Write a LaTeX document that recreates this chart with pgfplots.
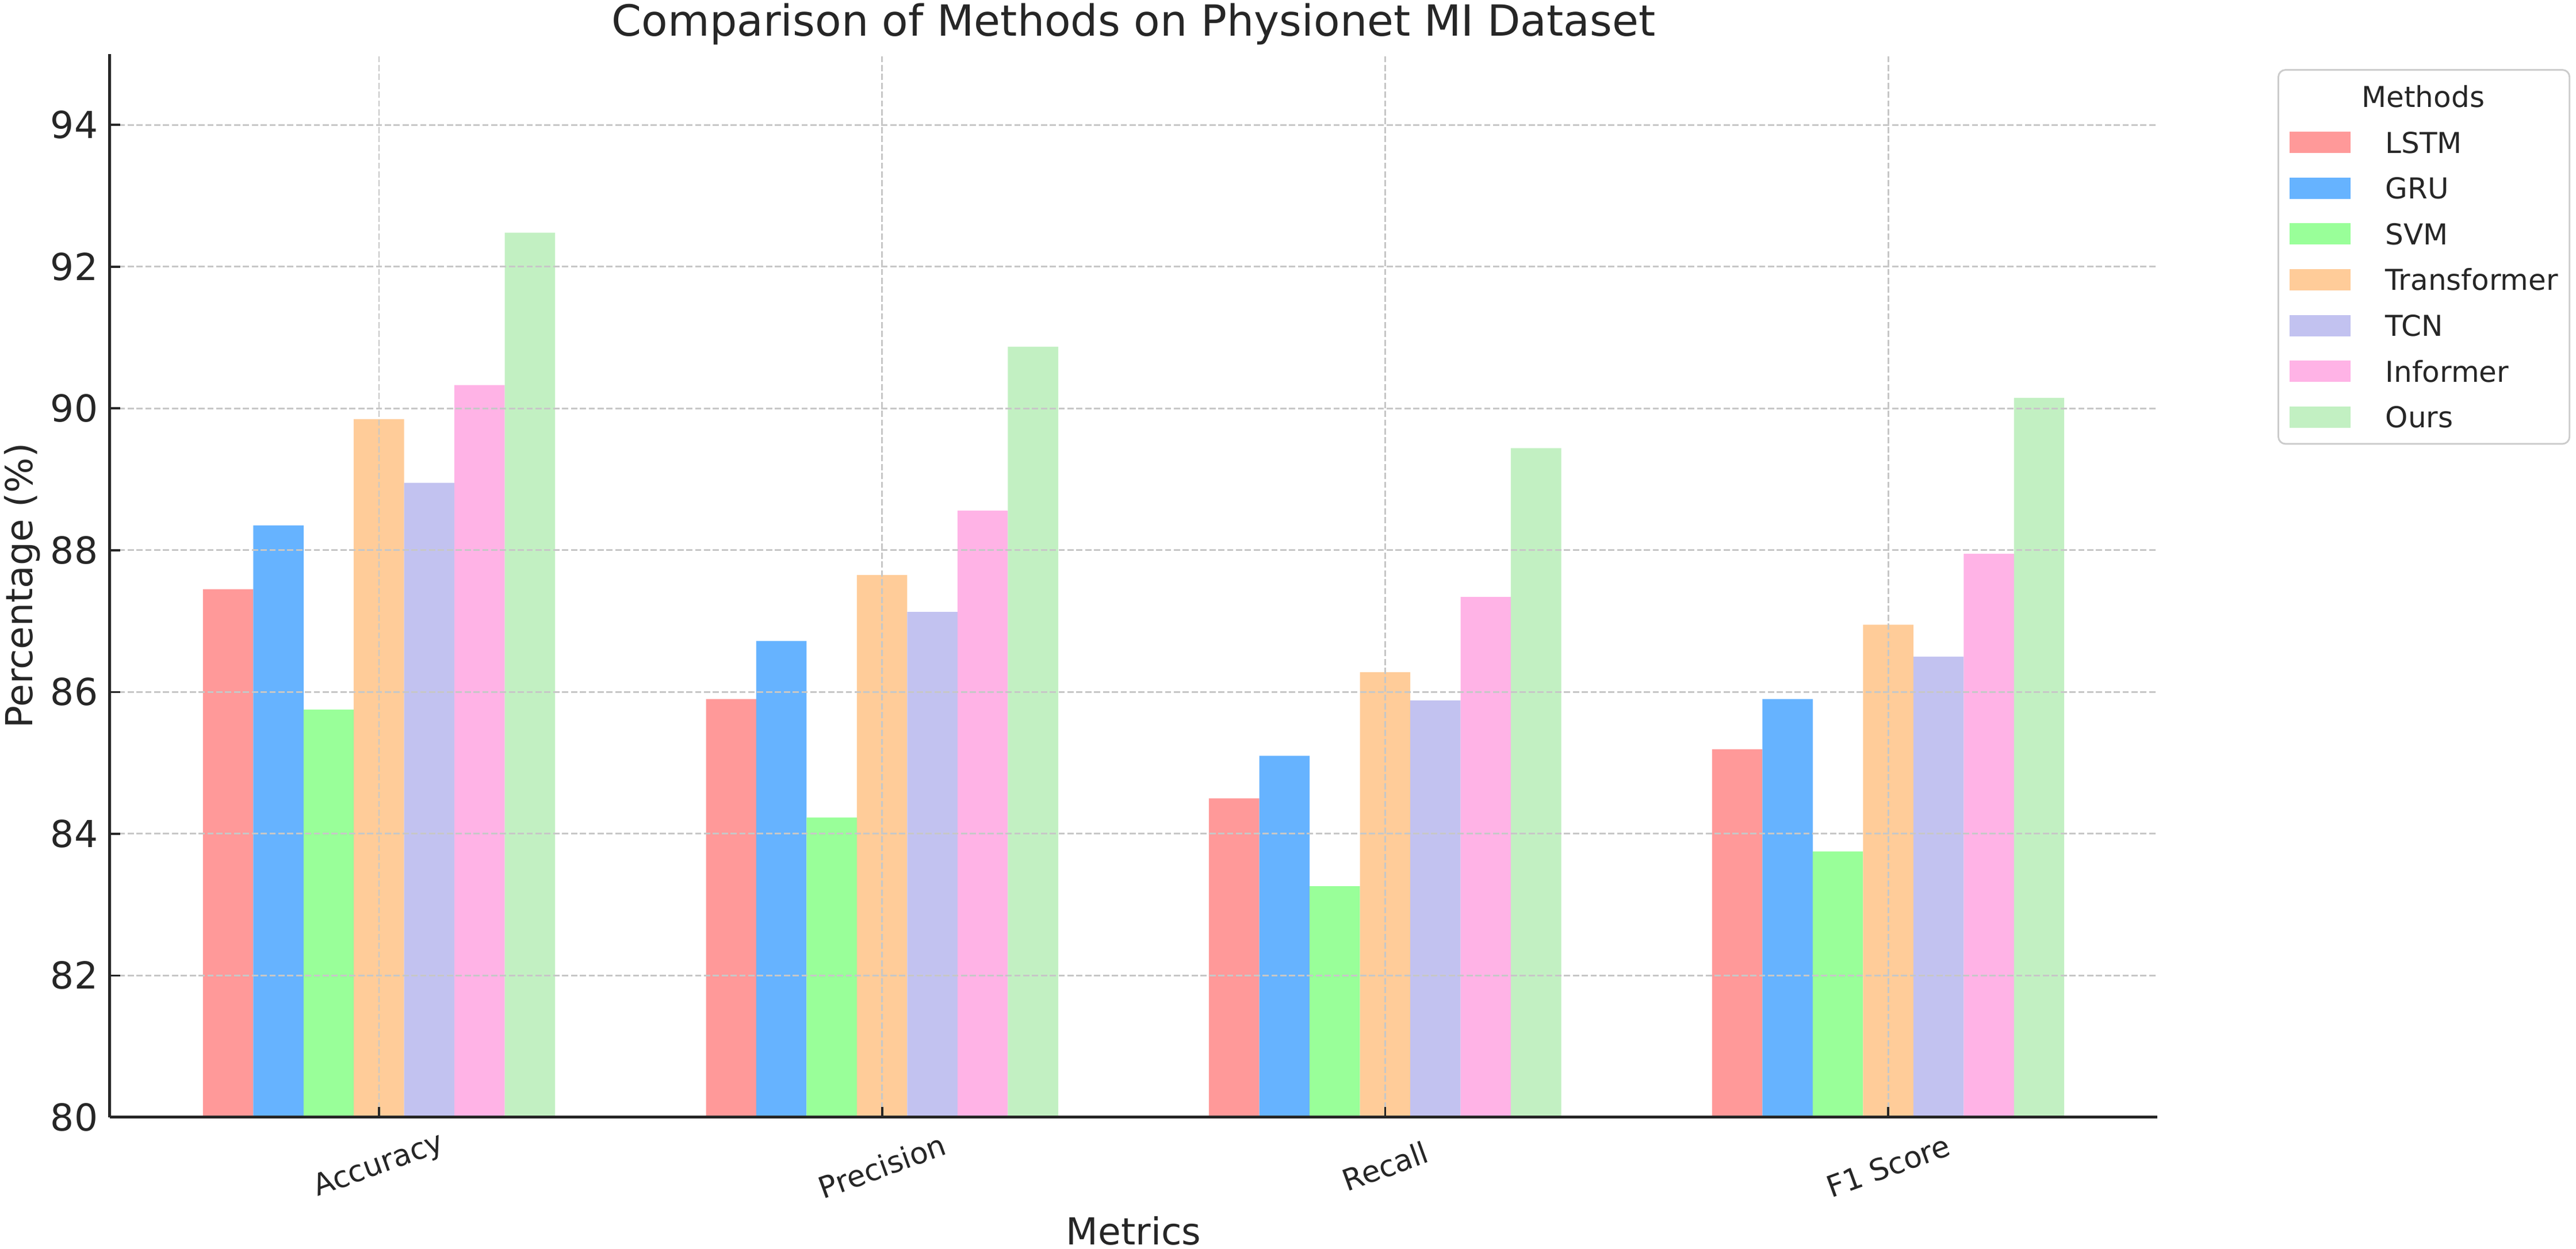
\documentclass[border=0pt]{standalone}
\usepackage{fontspec}
\setmainfont{DejaVu Sans}
\usepackage{pgfplots}
\pgfplotsset{compat=1.18}
\definecolor{cLSTM}{HTML}{FF9999}
\definecolor{cGRU}{HTML}{66B3FF}
\definecolor{cSVM}{HTML}{99FF99}
\definecolor{cTrans}{HTML}{FFCC99}
\definecolor{cTCN}{HTML}{C2C2F0}
\definecolor{cInf}{HTML}{FFB3E6}
\definecolor{cOurs}{HTML}{C2F0C2}
\definecolor{txt}{HTML}{262626}
\begin{document}
\begin{tikzpicture}
\path[use as bounding box] (-45.84pt,-54.96pt) rectangle (1029.12pt,466.32pt);
\begin{axis}[
  at={(0pt,0pt)}, anchor=south west,
  scale only axis, width=854.4pt, height=443.76pt,
  xmin=-0.535, xmax=3.535, ymin=80, ymax=95,
  ybar, bar width=0.1,
  axis lines*=left,
  axis line style={line width=1.2pt, color=txt},
  xtick={0,1,2,3}, xticklabels={Accuracy,Precision,Recall,F1 Score},
  ytick={80,82,84,86,88,90,92,94},
  tick align=inside, major tick length=4.3pt,
  tick style={line width=0.9pt, color=txt},
  xmajorgrids, ymajorgrids,
  grid style={line width=0.7pt, color=black!22, dash pattern=on 2.6pt off 1.1pt},
  axis on top,
  /pgf/number format/assume math mode=true,
  tick label style={color=txt},
  yticklabel style={font=\fontsize{15.5}{18}\selectfont, anchor=east, inner sep=0pt, xshift=-4.8pt},
  xticklabel style={font=\fontsize{12.4}{15}\selectfont, yshift=-20.4pt, rotate=20, anchor=center, inner sep=0pt},
  title={Comparison of Methods on Physionet MI Dataset},
  title style={font=\fontsize{17.9}{21}\selectfont, color=txt, at={(axis description cs:0.5,1.01677)}, anchor=base, yshift=-6pt},
  xlabel={Metrics},
  xlabel style={font=\fontsize{15.5}{18}\selectfont, color=txt, at={(axis description cs:0.5,-0.11953)}, anchor=base},
  ylabel={Percentage (\%)},
  ylabel style={font=\fontsize{15.5}{18}\selectfont, color=txt, at={(axis description cs:-0.03792,0.5)}, anchor=base},
  legend style={at={(1.0587,0.9859)}, anchor=north west, draw=black!20, line width=0.7pt,
    rounded corners=3pt, fill=white, font=\fontsize{12}{14}\selectfont, text=txt,
    inner xsep=4.8pt, inner ysep=5.2pt, row sep=7.1pt, column sep=14.5pt,
    nodes={inner sep=0pt, text height=10.4pt, text depth=1.6pt}},
  legend cell align=left,
  legend image code/.code={\fill[#1, sharp corners, draw=none] (0pt,-4.45pt) rectangle (25.4pt,4.45pt);},
]
\addlegendimage{empty legend}
\addlegendentry{\hspace*{-9.9pt}Methods}
\addplot[fill=cLSTM, draw=none, bar shift=-0.3] coordinates {(0,87.45) (1,85.90) (2,84.50) (3,85.19)};
\addlegendentry{LSTM}
\addplot[fill=cGRU, draw=none, bar shift=-0.2] coordinates {(0,88.35) (1,86.72) (2,85.10) (3,85.90)};
\addlegendentry{GRU}
\addplot[fill=cSVM, draw=none, bar shift=-0.1] coordinates {(0,85.75) (1,84.23) (2,83.26) (3,83.75)};
\addlegendentry{SVM}
\addplot[fill=cTrans, draw=none, bar shift=0] coordinates {(0,89.85) (1,87.65) (2,86.28) (3,86.95)};
\addlegendentry{Transformer}
\addplot[fill=cTCN, draw=none, bar shift=0.1] coordinates {(0,88.95) (1,87.13) (2,85.88) (3,86.50)};
\addlegendentry{TCN}
\addplot[fill=cInf, draw=none, bar shift=0.2] coordinates {(0,90.33) (1,88.56) (2,87.34) (3,87.95)};
\addlegendentry{Informer}
\addplot[fill=cOurs, draw=none, bar shift=0.3] coordinates {(0,92.48) (1,90.87) (2,89.44) (3,90.15)};
\addlegendentry{Ours}
\end{axis}
\end{tikzpicture}
\end{document}
